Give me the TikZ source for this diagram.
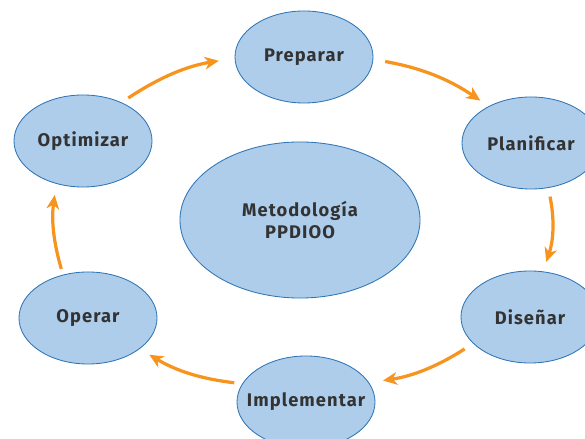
\documentclass[tikz,border=0pt]{standalone}
\usepackage{fontspec}
\setmainfont{Fira Sans}[LetterSpace=6]
\usepackage{xcolor}
\usetikzlibrary{shapes.geometric,arrows.meta}

\definecolor{phasefill}{HTML}{ADCDEB}
\definecolor{phaseline}{HTML}{2E75B6}
\definecolor{flowcol}{HTML}{F7941D}
\definecolor{txt}{HTML}{333333}

\begin{document}
\begin{tikzpicture}[
    x=0.025cm, y=0.025cm,
    phase/.style={ellipse, draw=phaseline, fill=phasefill, line width=0.6pt, minimum width=3.45cm, minimum height=2.3cm, inner xsep=-0.35cm, inner ysep=0pt, align=center, text=txt, font=\fontsize{13}{16}\selectfont\bfseries},
    core/.style={phase, minimum width=6cm, minimum height=3.9cm},
    flow/.style={-{Stealth[length=10pt, width=9pt, inset=3pt]}, flowcol, line width=2.3pt}
]
    \useasboundingbox (0,0) rectangle (585,439);

    % Phases
    \node[phase] (prep) at (304,382) {Preparar};
    \node[phase] (plan) at (531,296) {Planificar};
    \node[phase] (dis) at (530,122) {Diseñar};
    \node[phase] (imp) at (306,37) {Implementar};
    \node[phase] (ope) at (88,121) {Operar};
    \node[phase] (opt) at (83,298) {Optimizar};

    % Centre
    \node[core] (meta) at (300,219) {Metodología\\PPDIOO};

    % Cycle
    \draw[flow, shorten <=0.2cm, shorten >=0.4cm] (opt.45) to[bend left=12] (prep.181);
    \draw[flow, shorten <=0.3cm, shorten >=0.25cm] (prep.-2) to[bend left=12] (plan.139);
    \draw[flow, shorten <=0.22cm, shorten >=0.25cm] (plan.-69) to[bend left=15] (dis.74);
    \draw[flow, shorten <=0.25cm, shorten >=0.35cm] (dis.205) to[bend left=12] (imp.17);
    \draw[flow, shorten <=0.2cm, shorten >=0.28cm] (imp.164) to[bend left=12] (ope.-31);
    \draw[flow, shorten <=0.15cm, shorten >=0.28cm] (ope.120) to[bend left=12] (opt.238);
\end{tikzpicture}
\end{document}
